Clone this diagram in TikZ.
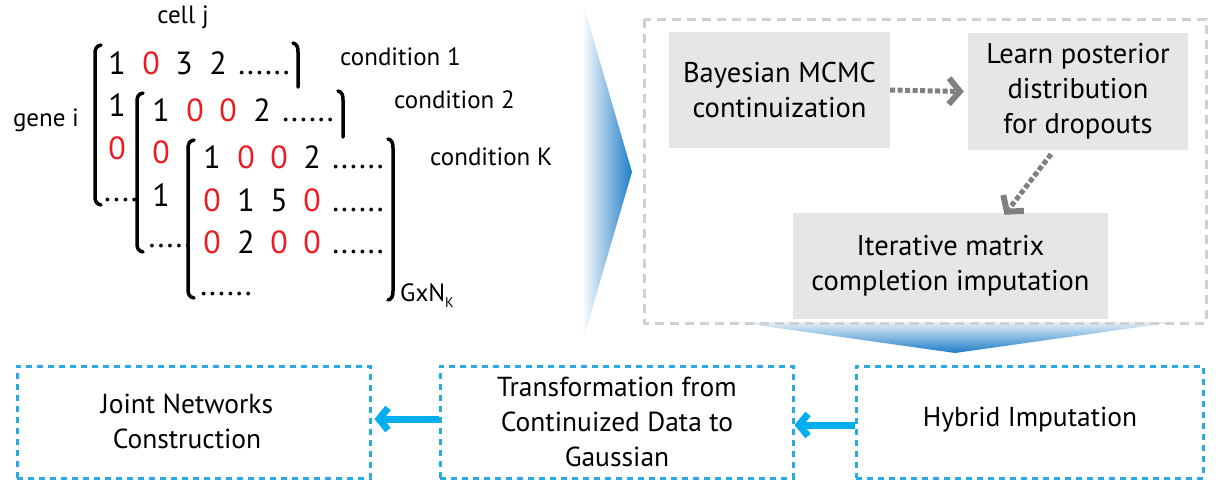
\documentclass[tikz,border=0pt]{standalone}
\usepackage{fontspec}
\setmainfont{PT Sans}
\usetikzlibrary{arrows.meta}
\definecolor{fblue}{RGB}{30,125,200}
\definecolor{mred}{RGB}{237,28,36}
\definecolor{cyanb}{RGB}{41,171,226}
\definecolor{arrcyan}{RGB}{0,174,239}
\definecolor{boxgray}{RGB}{230,230,230}
\definecolor{dashgray}{RGB}{208,208,208}
\definecolor{arrgray}{RGB}{128,128,128}
\tikzset{
  ent/.style={anchor=base, inner sep=0pt, font=\fontsize{32}{32}\selectfont},
  red/.style={text=mred},
  lab/.style={inner sep=0pt, font=\fontsize{25}{30}\selectfont},
  brk/.style={line width=3.5pt, line cap=round},
  graybox/.style={fill=boxgray, draw=none, inner sep=0pt, align=center,
                  font=\fontsize{28.5}{35}\selectfont},
  bluebox/.style={draw=cyanb, line width=3pt, dash pattern=on 6pt off 5pt, inner sep=0pt},
  btext/.style={align=center, inner sep=0pt, font=\fontsize{27.5}{35}\selectfont},
  grayarrow/.style={draw=arrgray, line width=5pt, dash pattern=on 5pt off 2.5pt,
                    -{Straight Barb[length=11pt,width=26pt,line width=6pt]}},
  bluearrow/.style={draw=arrcyan, line width=7pt,
                    -{Straight Barb[length=9pt,width=22pt]}},
}
\begin{document}
\begin{tikzpicture}[x=1pt,y=-1pt]
\useasboundingbox (0,0) rectangle (1224,488);

% funnels
\shade[left color=white, right color=fblue] (582,0) -- (632,172) -- (583,340) -- cycle;
\shade[top color=fblue!12, bottom color=fblue] (735,322) -- (1175,322) -- (955,353) -- cycle;

% brackets
\draw[brk] (101,45) .. controls (96,46) and (95,49) .. (95,54) -- (95,196) .. controls (95,201) and (96,204) .. (101,205);
\draw[brk] (293,43) .. controls (297,44) and (298,47) .. (298,52) -- (298,87);
\draw[brk] (143,93) .. controls (138,94) and (137,97) .. (137,102) -- (137,243) .. controls (137,248) and (138,251) .. (143,252);
\draw[brk] (338,91) .. controls (342,92) and (343,95) .. (343,100) -- (343,137);
\draw[brk] (194,140) .. controls (189,141) and (188,144) .. (188,149) -- (188,289) .. controls (188,294) and (189,297) .. (194,298);
\draw[brk] (388,139) .. controls (392,140) and (393,143) .. (393,148) -- (393,291) .. controls (393,296) and (392,299) .. (388,300);

% matrix 1
\node[ent] (m1a) at (117,74) {1};
\node[ent,red] (m1b) at (151,74) {0};
\node[ent] (m1c) at (184,74) {3};
\node[ent] (m1d) at (218,74) {2};
\node[ent] (m1e) at (264,74) {......};
\node[ent] (m1f) at (117,116) {1};
\node[ent,red] (m1g) at (117,159) {0};
\node[ent] (m1h) at (121,201) {....};
% matrix 2
\node[ent] (m2a) at (161,121) {1};
\node[ent,red] (m2b) at (195,121) {0};
\node[ent,red] (m2c) at (228,121) {0};
\node[ent] (m2d) at (262,121) {2};
\node[ent] (m2e) at (308,121) {......};
\node[ent,red] (m2f) at (161,163) {0};
\node[ent] (m2g) at (161,206) {1};
\node[ent] (m2h) at (170,247) {.....};
% matrix K
\node[ent] (k1a) at (212,168) {1};
\node[ent,red] (k1b) at (246,168) {0};
\node[ent,red] (k1c) at (279,168) {0};
\node[ent] (k1d) at (312,168) {2};
\node[ent] (k1e) at (358,168) {......};
\node[ent,red] (k2a) at (212,211) {0};
\node[ent] (k2b) at (246,211) {1};
\node[ent] (k2c) at (279,211) {5};
\node[ent,red] (k2d) at (312,211) {0};
\node[ent] (k2e) at (358,211) {......};
\node[ent,red] (k3a) at (212,253) {0};
\node[ent] (k3b) at (246,253) {2};
\node[ent,red] (k3c) at (279,253) {0};
\node[ent,red] (k3d) at (312,253) {0};
\node[ent] (k3e) at (358,253) {......};
\node[ent] (k4a) at (226,295) {......};

% labels
\node[lab] (cellj) at (183,17) {cell j};
\node[lab] (genei) at (46,120) {gene i};
\node[lab,anchor=west] (cond1) at (340,57) {condition 1};
\node[lab,anchor=west] (cond2) at (394,100) {condition 2};
\node[lab,anchor=west] (condK) at (430,157) {condition K};
\node[lab,anchor=west] (gxn) at (400,296) {GxN\raisebox{-6pt}{\fontsize{14}{14}\selectfont K}};

% right panel
\node[graybox, minimum width=221pt, minimum height=116pt] (bayes) at (779.5,90) {Bayesian MCMC\\continuization};
\node[graybox, minimum width=220pt, minimum height=117pt] (learn) at (1078,91.5) {Learn posterior\\distribution\\for dropouts};
\node[graybox, minimum width=315pt, minimum height=106pt] (iter) at (950.5,266) {Iterative matrix\\completion imputation};
\draw[dashgray, line width=3pt, dash pattern=on 9pt off 6pt] (644,19) rectangle (1206,323);
\draw[grayarrow] (bayes.east) -- ([xshift=-4pt]learn.west);
\draw[grayarrow] ([xshift=-27pt,yshift=-4pt]learn.south) -- ([xshift=54pt,yshift=-2pt]iter.north);

% bottom row
\node[bluebox, minimum width=353pt, minimum height=112pt] (joint) at (193.5,422) {};
\node[bluebox, minimum width=353pt, minimum height=112pt] (trans) at (616.5,422) {};
\node[bluebox, minimum width=347pt, minimum height=112pt] (hybrid) at (1029.5,422) {};
\node[btext] (jointt) at (187,421) {Joint Networks\\Construction};
\node[btext] (transt) at (617,422) {Transformation from\\Continuized Data to\\Gaussian};
\node[btext] (hybridt) at (1030,420) {Hybrid Imputation};
\draw[bluearrow] ([yshift=3pt]trans.west) -- ([xshift=3pt,yshift=3pt]joint.east);
\draw[bluearrow] ([yshift=-3pt]hybrid.west) -- ([yshift=-3pt]trans.east);
\end{tikzpicture}
\end{document}
